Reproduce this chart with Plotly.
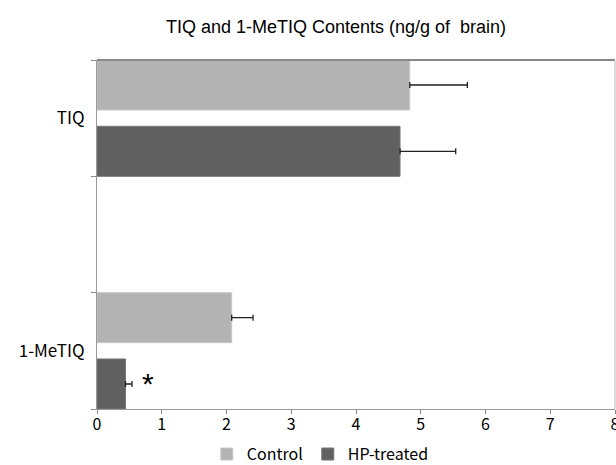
import plotly.graph_objects as go

categories = ["1-MeTIQ", " ", "TIQ"]
control_cats = ["TIQ", "1-MeTIQ"]
control_vals = [4.83, 2.08]
control_err = [0.89, 0.33]
hp_cats = ["TIQ", "1-MeTIQ"]
hp_vals = [4.68, 0.44]
hp_err = [0.86, 0.10]
x_ticks = [0, 1, 2, 3, 4, 5, 6, 7, 8]

tick_font = dict(family="Noto Sans CJK JP", size=16, color="#000")
ytick_font = dict(family="Noto Sans CJK JP", size=17, color="#000")
legend_font = dict(family="Noto Sans CJK JP", size=16, color="#000")

fig = go.Figure()
fig.add_trace(go.Bar(
    name="Control", y=control_cats, x=control_vals, orientation="h",
    width=0.43, offset=0.07,
    marker=dict(color="#b3b3b3", line=dict(color="#c8c8c8", width=1)),
    error_x=dict(type="data", array=control_err, arrayminus=[0, 0], symmetric=False,
                 color="#222", thickness=1.3, width=3),
))
fig.add_trace(go.Bar(
    name="HP-treated", y=hp_cats, x=hp_vals, orientation="h",
    width=0.43, offset=-0.5,
    marker=dict(color="#606060", line=dict(color="#777", width=1)),
    error_x=dict(type="data", array=hp_err, arrayminus=[0, 0], symmetric=False,
                 color="#222", thickness=1.3, width=3),
))
fig.add_annotation(x=hp_vals[1] + hp_err[1] + 0.12, y="1-MeTIQ", yshift=-33,
                   text="*", showarrow=False, xanchor="left",
                   font=dict(family="Liberation Sans", size=30, color="#000"))

fig.update_layout(
    width=616, height=465,
    margin=dict(l=97, r=1, t=60, b=56),
    paper_bgcolor="white", plot_bgcolor="white",
    barmode="overlay",
    title=dict(text="TIQ and 1-MeTIQ Contents (ng/g of  brain)", x=336 / 616, xref="container",
               xanchor="center", y=1 - 27 / 465, yref="container", yanchor="middle",
               automargin=False,
               font=dict(family="Liberation Sans", size=18, color="#000")),
    showlegend=True,
    legend=dict(orientation="h", x=0.52, xref="container", xanchor="center",
                y=0.06, yref="container", yanchor="top", itemwidth=30,
                font=legend_font, traceorder="normal"),
    xaxis=dict(range=[0, 8], tickvals=x_ticks, ticks="outside", ticklen=4,
               tickcolor="#888", showline=True, linecolor="#999", linewidth=1,
               mirror=False, showgrid=False, zeroline=False, tickfont=tick_font,
               ticklabelstandoff=-3, ticklabeloverflow="allow", automargin=False),
    yaxis=dict(type="category", categoryorder="array", categoryarray=categories,
               range=[-0.5, 2.5], tickson="boundaries", ticks="outside", ticklen=5,
               tickcolor="#888", showline=True, linecolor="#999", linewidth=1,
               showgrid=False, tickfont=ytick_font, ticklabelstandoff=8,
               automargin=False),
)
# top and right frame lines
fig.add_shape(type="line", xref="paper", yref="paper", x0=0, x1=1, y0=1, y1=1,
              line=dict(color="#888", width=2))
fig.add_shape(type="line", xref="paper", yref="paper", x0=1, x1=1, y0=0, y1=1,
              line=dict(color="#d0d0d0", width=1.5))
fig.write_html("out.html", config={"responsive": False, "displayModeBar": False},
               post_script="document.body.style.margin='0px';document.body.style.overflow='hidden';")
